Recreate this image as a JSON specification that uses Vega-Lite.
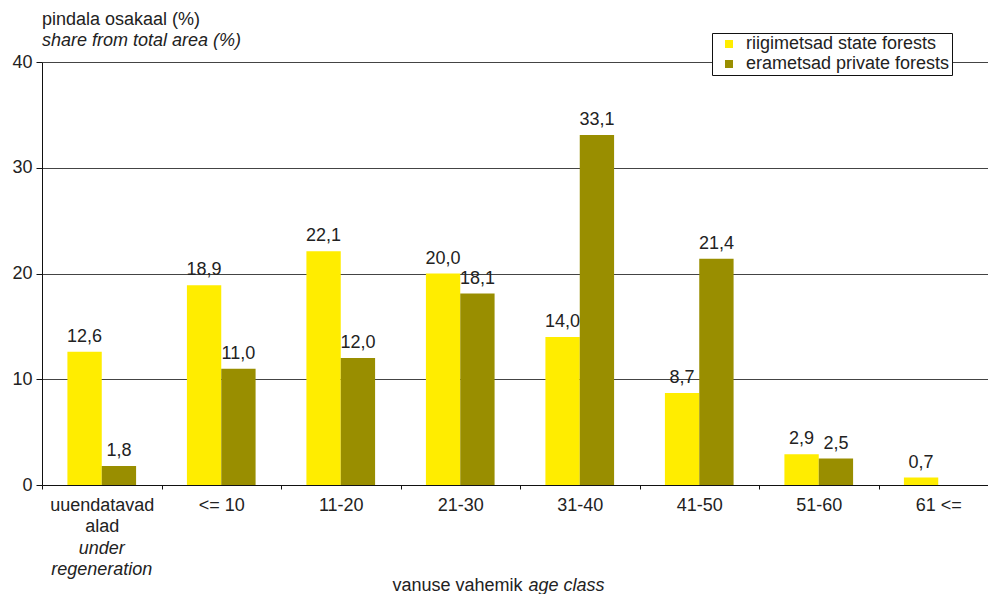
{
  "$schema": "https://vega.github.io/schema/vega-lite/v6.json",
  "width": 946,
  "height": 423,
  "autosize": "none",
  "padding": {"left": 42, "top": 62, "right": 0, "bottom": 109},
  "background": "white",
  "config": {
    "font": "Liberation Sans",
    "view": {"stroke": null},
    "locale": {"number": {"decimal": ",", "thousands": " ", "grouping": [3], "currency": ["", " €"]}}
  },
  "title": {
    "text": "pindala osakaal (%)",
    "subtitle": "share from total area (%)",
    "anchor": "start",
    "frame": "group",
    "fontSize": 18,
    "fontWeight": "normal",
    "color": "#222222",
    "subtitleFontSize": 18,
    "subtitleFontStyle": "italic",
    "subtitleColor": "#222222",
    "subtitlePadding": 3,
    "offset": -17
  },
  "data": {
    "values": [
      {"age": "uuendatavad alad", "owner": "riigimetsad state forests", "share": 12.6},
      {"age": "uuendatavad alad", "owner": "erametsad private forests", "share": 1.8},
      {"age": "<= 10", "owner": "riigimetsad state forests", "share": 18.9},
      {"age": "<= 10", "owner": "erametsad private forests", "share": 11.0},
      {"age": "11-20", "owner": "riigimetsad state forests", "share": 22.1},
      {"age": "11-20", "owner": "erametsad private forests", "share": 12.0},
      {"age": "21-30", "owner": "riigimetsad state forests", "share": 20.0},
      {"age": "21-30", "owner": "erametsad private forests", "share": 18.1},
      {"age": "31-40", "owner": "riigimetsad state forests", "share": 14.0},
      {"age": "31-40", "owner": "erametsad private forests", "share": 33.1},
      {"age": "41-50", "owner": "riigimetsad state forests", "share": 8.7},
      {"age": "41-50", "owner": "erametsad private forests", "share": 21.4},
      {"age": "51-60", "owner": "riigimetsad state forests", "share": 2.9},
      {"age": "51-60", "owner": "erametsad private forests", "share": 2.5},
      {"age": "61 <=", "owner": "riigimetsad state forests", "share": 0.7}
    ]
  },
  "encoding": {
    "x": {"field": "age", "type": "nominal", "sort": null,
      "scale": {"paddingInner": 0, "paddingOuter": 0, "range": [0, 956]}},
    "xOffset": {"field": "owner", "type": "nominal",
      "sort": ["riigimetsad state forests", "erametsad private forests"],
      "scale": {"paddingInner": 0, "paddingOuter": 0.74}},
    "y": {"field": "share", "type": "quantitative",
      "scale": {"domain": [0, 40], "nice": false},
      "axis": {"title": null, "values": [0, 10, 20, 30, 40], "format": "d",
        "grid": true, "gridColor": "#444444", "gridWidth": 1, "gridOpacity": 1,
        "domainColor": "#111111", "domainWidth": 1, "tickColor": "#111111", "tickSize": 6,
        "labelFontSize": 18, "labelColor": "#222222", "labelPadding": 4}}
  },
  "layer": [
    {
      "mark": {"type": "bar"},
      "encoding": {
        "x": {"field": "age", "type": "nominal", "sort": null,
          "axis": {"orient": "bottom", "labelAngle": 0, "tickBand": "extent", "tickSize": 4,
            "tickColor": "#111111", "domainColor": "#111111", "grid": false,
            "labelFontSize": 18, "labelColor": "#222222", "labelPadding": 7,
            "labelLineHeight": 21.5, "labelBaseline": "top",
            "labelExpr": "datum.value == 'uuendatavad alad' ? ['uuendatavad', 'alad'] : datum.value",
            "title": "vanuse vahemik", "titleFontSize": 18, "titleFontWeight": "normal",
            "titleColor": "#222222", "titleAlign": "right", "titleAnchor": null,
            "titleX": 480, "titleY": 100, "titleBaseline": "middle"}},
        "color": {"field": "owner", "type": "nominal",
          "sort": ["riigimetsad state forests", "erametsad private forests"],
          "scale": {"domain": ["riigimetsad state forests", "erametsad private forests"],
            "range": ["#FFED00", "#998E00"]},
          "legend": {"title": null, "orient": "none", "legendX": 670, "legendY": -29,
            "strokeColor": "#111111", "fillColor": "white", "padding": 2,
            "symbolType": "square", "symbolSize": 64, "symbolStrokeWidth": 0,
            "labelFontSize": 18, "labelColor": "#222222", "rowPadding": 2,
            "labelLimit": 400, "labelOffset": 8, "symbolOffset": 6}}
      }
    },
    {
      "mark": {"type": "text", "dy": -15, "fontSize": 18, "color": "#222222"},
      "encoding": {
        "x": {"field": "age", "type": "nominal", "sort": null,
          "axis": {"orient": "bottom", "domain": false, "ticks": false, "grid": false,
            "labelAngle": 0, "labelFontSize": 18, "labelColor": "#222222",
            "labelFontStyle": "italic", "labelPadding": 54, "labelLineHeight": 21.5,
            "labelBaseline": "top",
            "labelExpr": "datum.value == 'uuendatavad alad' ? ['under', 'regeneration'] : ''",
            "title": "age class", "titleFontSize": 18, "titleFontWeight": "normal",
            "titleFontStyle": "italic", "titleColor": "#222222", "titleAlign": "left",
            "titleAnchor": null, "titleX": 486, "titleY": 100, "titleBaseline": "middle"}},
        "text": {"field": "share", "type": "quantitative", "format": ".1f"}
      }
    }
  ],
  "resolve": {"axis": {"x": "independent"}}
}
